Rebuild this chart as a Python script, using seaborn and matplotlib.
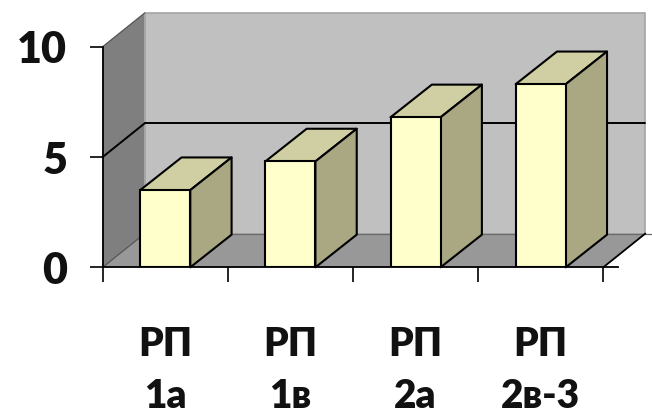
import matplotlib
matplotlib.use("Agg")
import matplotlib.pyplot as plt
from matplotlib.patches import Polygon
import seaborn as sns
import pandas as pd

# data
groups = ["РП\n1а", "РП\n1в", "РП\n2а", "РП\n2в-3"]
values = [3.5, 4.8, 6.8, 8.3]
y_ticks = [0, 5, 10]

sns.set_theme(style="white")
plt.rcParams["font.family"] = ["Lato", "DejaVu Sans"]

df = pd.DataFrame({"group": groups, "value": values})

fig = plt.figure(figsize=(6.52, 4.18), dpi=100)
ax = fig.add_axes([0.1575, 0.3605, 0.7908, 0.5278])

# depth of the 3-D box (walls) and of the columns, in data units
wdx, wdy = 0.336, 1.53
bdx, bdy = 0.33, 1.48
x0, x1 = -0.5, 3.5

# floor, side wall, back wall
ax.add_patch(Polygon([(x0, 0), (x1, 0), (x1 + wdx, wdy), (x0 + wdx, wdy)],
                     closed=True, facecolor="#989898", edgecolor="none",
                     zorder=0.5, clip_on=False))
ax.add_patch(Polygon([(x0, 0), (x0, 10), (x0 + wdx, 10 + wdy), (x0 + wdx, wdy)],
                     closed=True, facecolor="#7f7f7f", edgecolor="none",
                     zorder=0.5, clip_on=False))
ax.add_patch(Polygon([(x0 + wdx, wdy), (x1 + wdx, wdy), (x1 + wdx, 10 + wdy),
                      (x0 + wdx, 10 + wdy)],
                     closed=True, facecolor="#c0c0c0", edgecolor="#a4a4a4",
                     linewidth=1.2, zorder=0.6, clip_on=False))

# gridlines on the walls
for v in y_ticks:
    if v == 5:
        c, lw = "black", 1.4
    else:
        c, lw = "#555555", 0.9
    ax.plot([x0, x0 + wdx], [v, v + wdy], color=c, lw=lw, zorder=1, clip_on=False)
    if v == 5:
        ax.plot([x0 + wdx, x1 + wdx], [v + wdy, v + wdy], color=c, lw=lw,
                zorder=1, clip_on=False)
ax.plot([x0 + wdx, x1 + wdx + 0.06], [wdy, wdy], color="#6a6a6a", lw=0.9,
        zorder=1, clip_on=False)
ax.plot([x1, x1 + wdx], [0, wdy], color="black", lw=1.3, zorder=1, clip_on=False)

# columns: front faces from seaborn, then top and side faces
sns.barplot(data=df, x="group", y="value", width=0.4, color="#FFFFCC",
            saturation=1, edgecolor="black", linewidth=1.5, ax=ax, zorder=3)
for p in ax.patches:
    if not isinstance(p, matplotlib.patches.Rectangle):
        continue
    bx, bw, bh = p.get_x(), p.get_width(), p.get_height()
    top = Polygon([(bx, bh), (bx + bw, bh), (bx + bw + bdx, bh + bdy),
                   (bx + bdx, bh + bdy)], closed=True, facecolor="#CFCFA3",
                  edgecolor="black", linewidth=1.5, joinstyle="round",
                  zorder=2.9, clip_on=False)
    side = Polygon([(bx + bw, 0), (bx + bw + bdx, bdy), (bx + bw + bdx, bh + bdy),
                    (bx + bw, bh)], closed=True, facecolor="#A9A882",
                   edgecolor="black", linewidth=1.5, joinstyle="round",
                   zorder=2.9, clip_on=False)
    ax.add_patch(top)
    ax.add_patch(side)

ax.set_xlim(-0.5, 3.62)
ax.set_ylim(0, 10)
ax.set_xlabel("")
ax.set_ylabel("")

for s in ["top", "right"]:
    ax.spines[s].set_visible(False)
for s in ["left", "bottom"]:
    ax.spines[s].set_color("black")
    ax.spines[s].set_linewidth(1.3)
    ax.spines[s].set_zorder(4)

ax.set_yticks(y_ticks)
ax.set_yticklabels([str(v) for v in y_ticks], fontsize=31, fontweight="heavy",
                   color="#111111")
ax.tick_params(axis="y", direction="out", length=9.5, width=1.2, color="black",
               pad=16, left=True)

ax.set_xticks(range(len(groups)))
ax.set_xticklabels(groups, fontsize=28, fontweight="heavy", linespacing=1.5,
                   color="#111111")
ax.set_xticks([-0.5, 0.5, 1.5, 2.5, 3.5], minor=True)
ax.tick_params(axis="x", which="major", length=0, pad=42)
ax.tick_params(axis="x", which="minor", direction="out", length=11, width=1.2,
               color="black", bottom=True)

fig.savefig("out.png", dpi=100, facecolor="white")
